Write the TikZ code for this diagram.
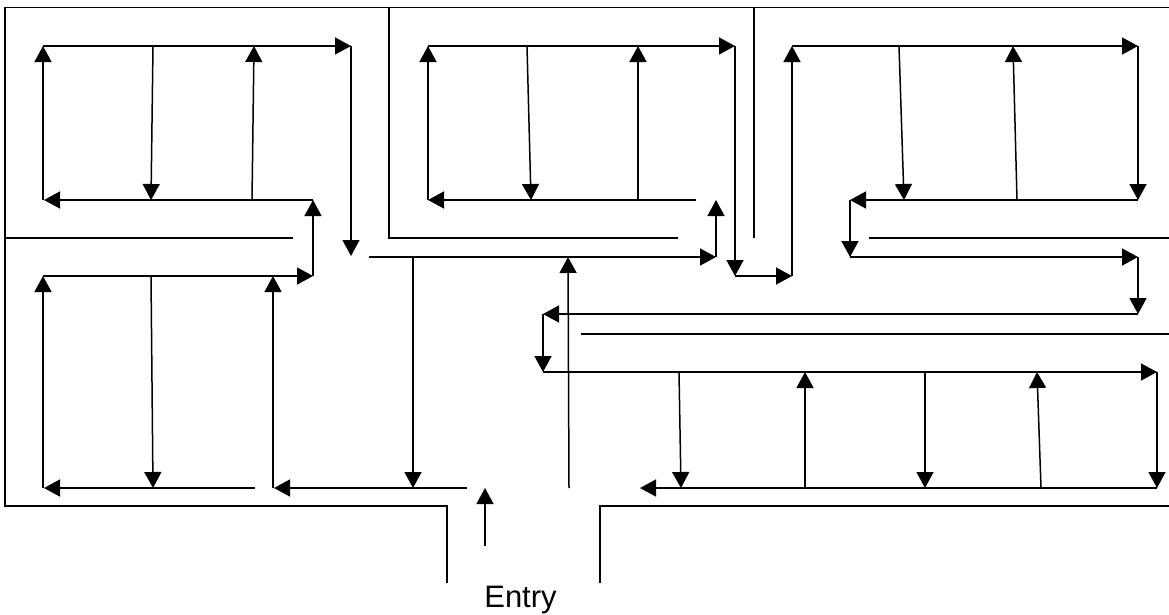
\documentclass[tikz,border=0pt]{standalone}
\usepackage{fontspec}
\setmainfont{Liberation Sans}
\usetikzlibrary{arrows.meta}
\tikzset{route/.style={-{Triangle[length=16pt,width=17pt]}}}

\begin{document}
\begin{tikzpicture}[x=1pt,y=-1pt,line width=1.5pt]
  \useasboundingbox (0,0) rectangle (1169,614);

  % walls
  \draw (447,583) -- (447,506) -- (5,506) -- (5,7.5) -- (1169,7.5);
  \draw (5,238) -- (293,238);
  \draw (389,7.5) -- (389,238) -- (678,238);
  \draw (754,7.5) -- (754,238);
  \draw (869,238) -- (1169,238);
  \draw (581,334) -- (1169,334);
  \draw (600,583) -- (600,506) -- (1169,506);

  % upper left room
  \draw[route] (43,200) -- (43,46);
  \draw[route] (43,46) -- (351,46);
  \draw[route] (153,46) -- (151,200);
  \draw[route] (252,200) -- (254,46);
  \draw[route] (313,200) -- (44,200);
  \draw[route] (351,46) -- (351,256);
  \draw[route] (313,276) -- (313,200);

  % lower left room
  \draw[route] (43,276) -- (313,276);
  \draw[route] (43,488) -- (43,276);
  \draw[route] (151,276) -- (153,488);
  \draw[route] (255,488) -- (44,488);
  \draw[route] (273,488) -- (273,276);
  \draw[route] (467,488) -- (274,488);
  \draw[route] (413,257) -- (413,488);

  % middle
  \draw[route] (369,257) -- (716,257);
  \draw[route] (716,257) -- (716,200);
  \draw[route] (569,488) -- (568,257);
  \draw[route] (485,546) -- (485,488);

  % upper middle room
  \draw[route] (696,200) -- (428,200);
  \draw[route] (428,200) -- (428,46);
  \draw[route] (428,46) -- (735,46);
  \draw[route] (527,46) -- (531,200);
  \draw[route] (638,200) -- (638,46);
  \draw[route] (735,46) -- (735,276);
  \draw[route] (735,276) -- (792,276);

  % upper right room
  \draw[route] (792,276) -- (792,46);
  \draw[route] (792,46) -- (1138,46);
  \draw[route] (899,46) -- (904,200);
  \draw[route] (1017,200) -- (1013,46);
  \draw[route] (1138,46) -- (1138,200);
  \draw[route] (1138,200) -- (850,200);
  \draw[route] (850,200) -- (850,257);
  \draw[route] (850,257) -- (1138,257);
  \draw[route] (1138,257) -- (1138,314);
  \draw[route] (1138,314) -- (543,314);
  \draw[route] (543,314) -- (543,372);

  % lower right room
  \draw[route] (543,372) -- (1157,372);
  \draw[route] (1157,372) -- (1157,488);
  \draw[route] (1157,488) -- (640,488);
  \draw[route] (679,372) -- (681,488);
  \draw[route] (805,488) -- (805,372);
  \draw[route] (925,372) -- (925,488);
  \draw[route] (1041,488) -- (1037,372);

  \node[anchor=base,inner sep=0pt] (entry) at (520.5,607) {\fontsize{31pt}{34pt}\selectfont Entry};
\end{tikzpicture}
\end{document}
